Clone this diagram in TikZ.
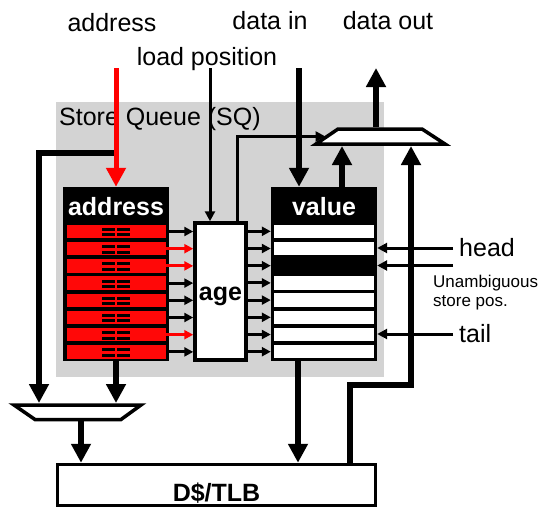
\documentclass[tikz,border=0pt]{standalone}
\usepackage{fontspec}
\setmainfont{Liberation Sans}
\usetikzlibrary{arrows.meta,calc}
\definecolor{sqgray}{RGB}{211,211,211}
\definecolor{rowred}{RGB}{255,8,8}

\begin{document}
\begin{tikzpicture}[
        x=1pt, y=-1pt,
        bigText/.style={font=\fontsize{25}{30}\selectfont, inner sep=0pt},
        boldText/.style={font=\fontsize{25}{30}\selectfont\bfseries, inner sep=0pt},
        smallText/.style={font=\fontsize{17}{19}\selectfont, inner sep=0pt, align=left},
        queueBox/.style={rectangle, fill=black, inner sep=0pt,
        minimum width=106pt, minimum height=174pt},
        addrRow/.style={rectangle, fill=rowred, inner sep=0pt,
        minimum width=99pt, minimum height=13.5pt},
        valueRow/.style={rectangle, inner sep=0pt,
        minimum width=100pt, minimum height=13.5pt},
        plainBox/.style={rectangle, draw, fill=white, line width=3.5pt, inner sep=0pt},
        muxLine/.style={draw, fill=white, line width=3.5pt, line join=miter},
        bus/.style={line width=6pt, -{Triangle[width=19pt,length=19pt]}},
        redBus/.style={line width=5pt, red, -{Triangle[width=19pt,length=19pt]}},
        thinArrow/.style={line width=3pt, -{Triangle[width=10pt,length=10pt]}},
        rowArrow/.style={line width=3pt, -{Triangle[width=9pt,length=9pt]}},
    ]
    \useasboundingbox (0,0) rectangle (543,522);
    \fill[sqgray] (56,102) rectangle (384,377);

    % boxes
    \node[queueBox] (addr) at (116,274) {};
    \node[queueBox] (val)  at (324,274) {};
    \node[plainBox, minimum width=51pt, minimum height=137pt] (age) at (220.5,291.5) {};
    \node[plainBox, minimum width=318pt, minimum height=41pt] (cache) at (216.5,485) {};

    % muxes
    \coordinate (rmux) at (380.5,136.5);
    \coordinate (rmuxtop) at (380.5,127);
    \coordinate (rmuxbot) at (380.5,146);
    \coordinate (rmuxwest) at (325.5,136.5);
    \draw[muxLine] ($(rmux)+(-42.5,-7.5)$) -- ($(rmux)+(41.5,-7.5)$)
        -- ($(rmux)+(64.5,7.5)$) -- ($(rmux)+(-64.5,7.5)$) -- cycle;
    \coordinate (lmux) at (78,412);
    \coordinate (lmuxtop) at (78,403);
    \draw[muxLine] ($(lmux)+(-64,-7)$) -- ($(lmux)+(63,-7)$)
        -- ($(lmux)+(43,7.5)$) -- ($(lmux)+(-43,7.5)$) -- cycle;

    % texts
    \node[bigText, anchor=base]       (addrlbl) at (112,31)   {address};
    \node[bigText, anchor=base]       (loadlbl) at (207,65)   {load position};
    \node[bigText, anchor=base]       (dinlbl)  at (270,29.5) {data in};
    \node[bigText, anchor=base]       (doutlbl) at (388,29.5) {data out};
    \node[bigText, anchor=base west]  (sqlbl)   at (59,125)   {Store Queue (SQ)};
    \node[boldText, text=white, anchor=base] (addrhead) at (116,215)   {address};
    \node[boldText, text=white, anchor=base] (valhead)  at (324,215.5) {value};
    \node[boldText, anchor=base]      (agelbl)   at (220.5,300.5) {age};
    \node[boldText, anchor=base]      (cachelbl) at (216.5,501.5) {D\$/TLB};
    \node[bigText, anchor=west]       (headlbl)  at (459,248) {head};
    \node[bigText, anchor=west]       (taillbl)  at (459,334) {tail};
    \node[smallText, anchor=north west] (unamblbl) at (433,274.5) {Unambiguous\\store pos.};

    % queue entries
    \foreach \i/\c in {0/black,1/red,2/red,3/black,4/black,5/black,6/red,7/black} {
        \node[addrRow] (a\i) at (116.5,{231.5+17.2*\i}) {};
        \fill ([shift={(-14.5,-3.6)}]a\i.center) rectangle ++(13,3);
        \fill ([shift={(0.5,-3.6)}]a\i.center) rectangle ++(13,3);
        \fill ([shift={(-14.5,1.8)}]a\i.center) rectangle ++(13,3);
        \fill ([shift={(0.5,1.8)}]a\i.center) rectangle ++(13,3);
        \draw[rowArrow, \c] (a\i.east) -- (age.west |- a\i.east);
    }
    \foreach \i/\f in {0/white,1/white,2/black,3/white,4/white,5/white,6/white,7/white} {
        \node[valueRow, fill=\f] (v\i) at (324,{231.3+17.2*\i}) {};
        \draw[rowArrow] (age.east |- v\i.west) -- (val.west |- v\i.west);
    }

    % free ends
    \coordinate (addrsrc) at (116,68);
    \coordinate (addrtap) at (116,153);
    \coordinate (ldsrc)   at (210,68);
    \coordinate (dinsrc)  at (299,68);
    \coordinate (doutend) at (376,68);
    \coordinate (unambsrc) at (453,265.5);
    \coordinate (bypass)  at (411,385);
    \coordinate (ageup)   at ($(age.north)+(16.5,0)$);
    \coordinate (valup)   at ($(val.north)+(18,0)$);
    \coordinate (valdown) at ($(val.south)+(-26,0)$);
    \coordinate (lmuxout) at ($(lmux)+(3,7.5)$);

    % connectors
    \draw[bus] (addrtap) -| ($(lmuxtop)+(-39,0)$);
    \draw[redBus] (addrsrc) -- (addr.north);
    \draw[thinArrow] (ldsrc) -- (ldsrc |- age.north);
    \draw[thinArrow] (ageup) |- (rmuxwest);
    \draw[bus] (dinsrc) -- (dinsrc |- val.north);
    \draw[bus] (valup) -- (valup |- rmuxbot);
    \draw[bus] (rmuxtop -| doutend) -- (doutend);
    \draw[bus] (addr.south) -- (addr.south |- lmuxtop);
    \draw[bus] (lmuxout) -- (lmuxout |- cache.north);
    \draw[bus] (valdown) -- (valdown |- cache.north);
    \draw[thinArrow] ([xshift=-6pt]headlbl.west) -- (headlbl.west -| val.east);
    \draw[thinArrow] (unambsrc) -- (unambsrc -| val.east);
    \draw[thinArrow] ([xshift=-6pt]taillbl.west) -- (taillbl.west -| val.east);
    \draw[bus] ($(cache.north)+(133.5,0)$) |- (bypass) -- (bypass |- rmuxbot);
\end{tikzpicture}
\end{document}
